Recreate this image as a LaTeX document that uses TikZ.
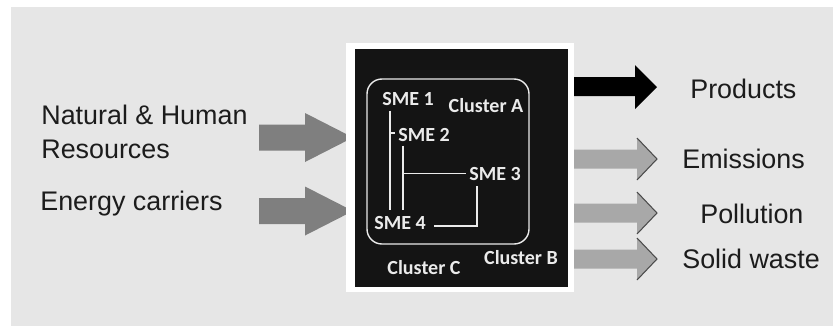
\documentclass[tikz,border=0pt]{standalone}
\usepackage{fontspec}
\setmainfont{Liberation Sans}
\newfontfamily\smefont{Carlito}
\usetikzlibrary{calc}

\definecolor{panelgrey}{HTML}{E6E6E6}
\definecolor{ingrey}{HTML}{7F7F7F}
\definecolor{outgrey}{HTML}{A8A8A8}
\definecolor{edgegrey}{HTML}{4A4A4A}
\definecolor{boxblack}{HTML}{141414}
\definecolor{smewhite}{HTML}{EBEBEB}
\definecolor{textblack}{HTML}{1C1C1C}

\begin{document}
\begin{tikzpicture}[x=0.02cm, y=-0.02cm,
  flowtext/.style={anchor=base west, inner sep=0, text=textblack, font=\fontsize{15.3}{19.3}\selectfont},
  sme/.style={inner sep=1.5pt, text=smewhite, font=\smefont\bfseries\fontsize{11.4}{13}\selectfont},
  bus/.style={draw=smewhite, line width=0.8pt},
  inarrow/.style={fill=ingrey},
  outarrow/.style={fill=outgrey}]
  \useasboundingbox (0,0) rectangle (833,326);
  \fill[panelgrey] (11,7) rectangle (833,326);

  % inputs
  \foreach \y in {137.5,211}
    \fill[inarrow] (259,\y-13) -- (305,\y-13) -- (305,\y-24.5) -- (353,\y)
      -- (305,\y+24.5) -- (305,\y+13) -- (259,\y+13) -- cycle;

  % outputs
  \fill[black] (570,77) -- (635,77) -- (635,65) -- (657,87) -- (635,109) -- (635,96) -- (570,96) -- cycle;
  \foreach \y in {159,213,259} {
    \fill[outarrow] (570,\y-9.5) -- (637,\y-9.5) -- (637,\y-21) -- (657,\y)
      -- (637,\y+21) -- (637,\y+9.5) -- (570,\y+9.5) -- cycle;
    \draw[edgegrey, line width=0.6pt] (637,\y-21) -- (657,\y) -- (637,\y+21);
  }

  % the black box
  \fill[white] (346,43) rectangle (574,292);
  \fill[boxblack] (355,49) rectangle (568,287);
  \draw[smewhite, line width=0.8pt, rounded corners=8.5pt] (367,79) rectangle (529,244);

  \node[sme] (sme1) at (408,99) {SME 1};
  \node[sme] (sme2) at (424,135) {SME 2};
  \node[sme] (sme3) at (495,173.5) {SME 3};
  \node[sme] (sme4) at (400,222.5) {SME 4};
  \node[sme] (clA) at (486,106) {Cluster A};
  \node[sme] (clB) at (521,258) {Cluster B};
  \node[sme] (clC) at (424,268) {Cluster C};

  \coordinate (v1) at (390,210);
  \coordinate (v2) at (403,210);
  \coordinate (c3) at (477,226);
  \draw[bus] ($(v1 |- sme1.south)+(0,2)$) -- (v1);
  \draw[bus] ($(v1 |- sme2.west)+(0,-2)$) -- ($(sme2.west)+(0,-2)$);
  \draw[bus] ($(v2 |- sme2.south)+(0,1)$) -- (v2);
  \draw[bus] (v2 |- sme3.west) -- (sme3.west);
  \draw[bus] ($(sme3.south -| c3)+(0,3)$) -- (c3) -- ($(sme4.east |- c3)+(5,0)$);

  % labels
  \node[flowtext, anchor=north west, align=left] (natural) at (41,104.5) {Natural \& Human\\Resources};
  \node[flowtext] (energy) at (40,210) {Energy carriers};
  \node[flowtext] (products) at (690,98) {Products};
  \node[flowtext] (emissions) at (682,168) {Emissions};
  \node[flowtext] (pollution) at (700,223) {Pollution};
  \node[flowtext] (waste) at (682,268) {Solid waste};
\end{tikzpicture}
\end{document}
